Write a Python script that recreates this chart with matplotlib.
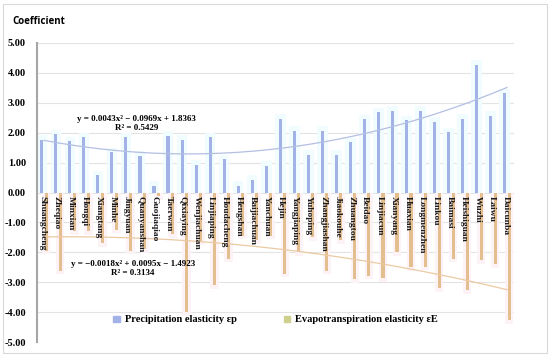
import numpy as np
import matplotlib
matplotlib.use("Agg")
import matplotlib.pyplot as plt
from matplotlib.patches import Rectangle, Patch

stations = ["Shuangcheng", "Zheqiao", "Minxian", "Hongqi", "Xiangtang", "Minhe", "Jingyuan",
            "Quanyanshan", "Guojiaqiao", "Taerwan", "Qixiaying", "Wenjiachuan", "Linjiaping",
            "Houdacheng", "Hengshan", "Baijiachuan", "Yanchuan", "Hejin", "Yangjiaping",
            "Yuhoping", "Zhangjiashan", "Jiaokouhe", "Zhuangtou", "Beidao", "Linjiacun",
            "Xianyang", "Huaxian", "Longmenzhen", "Linkou", "Baimasi", "Heishiguan", "Wuzhi",
            "Laiwu", "Daicunba"]
precip = [1.76, 1.94, 1.72, 1.85, 0.57, 1.34, 1.84, 1.23, 0.22, 1.90, 1.77, 0.93, 1.85,
          1.11, 0.23, 0.42, 0.89, 2.47, 2.06, 1.26, 2.07, 1.27, 1.68, 2.45, 2.69, 2.73,
          2.42, 2.73, 2.36, 2.02, 2.46, 4.28, 2.56, 3.32]
evap = [-1.95, -2.62, -1.30, -1.30, -1.70, -1.25, -1.95, -1.90, -0.12, -1.40, -4.00, -1.65,
        -3.10, -2.22, -1.45, -1.60, -1.45, -2.72, -2.00, -1.50, -2.61, -1.60, -2.90, -2.78,
        -2.87, -2.00, -2.50, -2.48, -3.20, -2.22, -3.26, -2.27, -2.39, -4.28]
trend_p = [0.0043, -0.0969, 1.8363]
trend_e = [-0.0018, 0.0095, -1.4923]
eq_p = ["y = 0.0043x\u00b2 \u2212 0.0969x + 1.8363", "R\u00b2 = 0.5429"]
eq_e = ["y = \u22120.0018x\u00b2 + 0.0095x \u2212 1.4923", "R\u00b2 = 0.3134"]
yticks = [5, 4, 3, 2, 1, 0, -1, -2, -3, -4, -5]
legend_labels = ["Precipitation elasticity \u03b5p", "Evapotranspiration elasticity \u03b5E"]

serif = "Liberation Serif"
c_p = "#a2b2e6"
c_e = "#e3be8e"

fig = plt.figure(figsize=(5.5, 3.57), dpi=100)
fig.patches.append(Rectangle((3/550, 4/357), 544/550, 349/357, transform=fig.transFigure,
                             fill=False, edgecolor="#d9d9d9", linewidth=0.8))
ax = fig.add_axes([37/550, 1-342/357, (514-37)/550, (342-43)/357])

x = np.arange(len(stations))
w = 0.22
off = 0.16
p = np.array(precip)
e = np.array(evap)
# soft glow
ax.bar(x - off, p + 0.15, width=0.75, color="#f0fcfd", zorder=1)
ax.bar(x + off, e - 0.12, width=0.6, color="#fdf3f6", zorder=1)
bp = ax.bar(x - off, p, width=w, color=c_p, zorder=3)
be = ax.bar(x + off, e, width=w, color=c_e, zorder=3)

xx = np.linspace(1, len(stations), 200)
ax.plot(xx - 1, np.polyval(trend_p, xx), color="#b4bfe2", lw=0.9, zorder=4)
ax.plot(xx - 1, np.polyval(trend_e, xx), color="#ebcaa3", lw=0.9, zorder=4)

ax.set_xlim(-0.5, len(stations) - 0.5)
ax.set_ylim(-5, 5)
ax.set_yticks(yticks)
ax.set_yticklabels([f"{v:.2f}" for v in yticks], fontfamily=serif, fontweight="bold", fontsize=7.5)
ax.set_xticks([])
ax.tick_params(axis="y", length=0, pad=8)
ax.grid(axis="y", color="#e3e3e3", lw=0.8, zorder=0)
ax.set_axisbelow(True)
for s in ["top", "right", "bottom"]:
    ax.spines[s].set_visible(False)
ax.spines["left"].set_color("#a6a6a6")
ax.spines["left"].set_linewidth(1.5)

for i, name in enumerate(stations):
    ax.text(i - 0.1, -0.12, name, rotation=-90, ha="center", va="top", fontfamily=serif,
            fontweight="bold", fontsize=6.8, color="#1a1a1a", zorder=5)

ax.text(6.6, 2.3, eq_p[0] + "\n" + eq_p[1], ha="center", va="center", fontfamily=serif,
        fontweight="bold", fontsize=6.5, linespacing=1.25, zorder=6)
ax.text(6.35, -2.55, eq_e[0] + "\n" + eq_e[1], ha="center", va="center", fontfamily=serif,
        fontweight="bold", fontsize=6.5, linespacing=1.25, zorder=6)

fig.text(12/550, 1-22/357, "Coefficient", fontfamily="Open Sans", fontweight="bold",
         fontsize=7, ha="left", va="center")

handles = [Patch(color=c_p), Patch(color="#cfcf90")]
ax.legend(handles, legend_labels, loc="center", bbox_to_anchor=(0.5, (342-320)/(342-43)),
          ncol=2, frameon=False, handlelength=0.6, handleheight=0.6, handletextpad=0.5,
          columnspacing=4.5, prop={"family": serif, "weight": "bold", "size": 7.5})

fig.savefig("out.png", dpi=100)
